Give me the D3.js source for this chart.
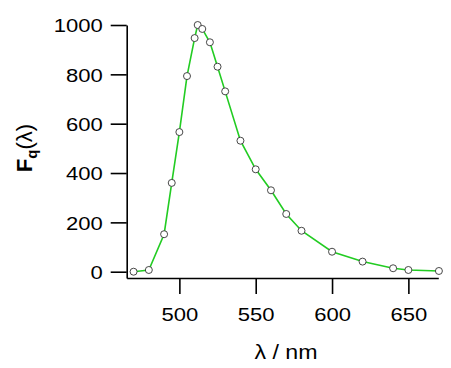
<!DOCTYPE html>
<html>
<head>
<meta charset="utf-8">
<script src="https://cdn.jsdelivr.net/npm/d3@7"></script>
<style>
body { margin: 0; background: #fff; }
text { font-family: "Liberation Sans", Arial, sans-serif; }
</style>
</head>
<body>
<div id="graph"></div>
<script>
(function(){
"use strict";

// emission spectrum
var wavelength = [470, 480, 490, 495, 500, 505, 510, 512, 515, 520, 525, 530, 540, 550, 560, 570, 580, 600, 620, 640, 650, 670];
var intensity  = [0, 7, 152, 360, 566, 793, 947, 1000, 984, 930, 831, 731, 531, 415, 330, 234, 166, 81, 41, 14, 7, 3];
var xTicks = [500, 550, 600, 650];
var yTicks = [0, 200, 400, 600, 800, 1000];

var width = 451, height = 368;
var left = 126.7, right = 438.3, top = 25, bottom = 278;
var stretch = 1.16; // the original lettering is a bit wider than Liberation

var svg = d3.select("#graph")
	.append("svg")
		.attr("width", width)
		.attr("height", height);

var x = d3.scaleLinear()
	.domain([465.5, 669.6])
	.range([left, right]);
var y = d3.scaleLinear()
	.domain([-25.5, 1000])
	.range([bottom, top]);

var xAxis = d3.axisBottom(x)
	.tickValues(xTicks)
	.tickFormat(d3.format("d"))
	.tickSize(16)
	.tickSizeOuter(0)
	.tickPadding(14);
var yAxis = d3.axisLeft(y)
	.tickValues(yTicks)
	.tickFormat(d3.format("d"))
	.tickSize(16)
	.tickSizeOuter(0)
	.tickPadding(8);

var gx = svg.append("g")
	.attr("transform", "translate(0," + bottom + ")")
	.call(xAxis);
var gy = svg.append("g")
	.attr("transform", "translate(" + left + ",0)")
	.call(yAxis);

[gx, gy].forEach(function(g){
	g.selectAll("path, line").attr("stroke", "#000").attr("stroke-width", 1.6);
	g.selectAll("text").attr("fill", "#000")
		.style("font-size", "19px")
		.attr("transform", "scale(" + stretch + ",1)");
});
gy.selectAll("text")
	.attr("dy", "0.36em")
	.attr("x", -24 / stretch);

var line = d3.line()
	.x(function(d, i){ return x(wavelength[i]); })
	.y(function(d){ return y(d); });

svg.append("path")
	.datum(intensity)
	.attr("fill", "none")
	.attr("stroke", "#22cc22")
	.attr("stroke-width", 1.6)
	.attr("d", line);

svg.selectAll("circle.pt")
	.data(intensity)
	.enter()
	.append("circle")
		.attr("class", "pt")
		.attr("cx", function(d, i){ return x(wavelength[i]); })
		.attr("cy", function(d){ return y(d); })
		.attr("r", 3.5)
		.attr("fill", "#fff")
		.attr("stroke", "#333")
		.attr("stroke-width", 0.9);

svg.append("text")
	.attr("transform", "translate(286,359) scale(" + stretch + ",1)")
	.attr("text-anchor", "middle")
	.style("font-size", "20px")
	.text("λ / nm");

var yl = svg.append("text")
	.attr("transform", "translate(32,148) rotate(-90)")
	.attr("text-anchor", "middle")
	.style("font-size", "22px");
yl.append("tspan").style("font-weight", "bold").text("F");
yl.append("tspan").attr("dy", 5).style("font-size", "15px").style("font-weight", "bold").text("q");
yl.append("tspan").attr("dy", -5).text("(λ)");

})();
</script>
</body>
</html>
